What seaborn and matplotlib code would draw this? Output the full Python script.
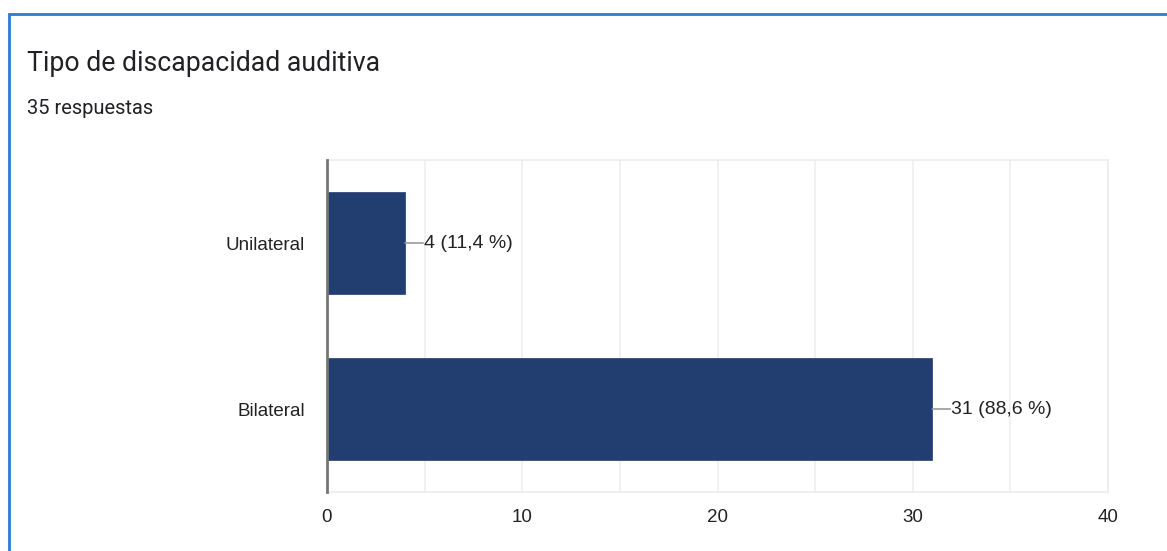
import matplotlib
matplotlib.use("Agg")
import matplotlib.pyplot as plt
import seaborn as sns
import pandas as pd
from matplotlib.patches import Rectangle
from matplotlib.ticker import MultipleLocator

categories = ["Unilateral", "Bilateral"]
counts = [4, 31]
percent_labels = ["11,4 %", "88,6 %"]
title = "Tipo de discapacidad auditiva"
subtitle = "35 respuestas"

sns.set_theme(style="white")
plt.rcParams['font.family'] = ['Liberation Sans', 'DejaVu Sans']

df = pd.DataFrame({"cat": categories, "n": counts})

fig = plt.figure(figsize=(11.67, 5.51), dpi=100)
ax = fig.add_axes([327/1167, 1-492/551, (1108-327)/1167, (492-160)/551])

sns.barplot(data=df, y="cat", x="n", orient="h", color="#223d6f",
            saturation=1, width=0.62, ax=ax, edgecolor="#223d6f", linewidth=0.5)

ax.set_xlim(0, 40)
ax.set_ylim(1.5, -0.5)
ax.xaxis.set_major_locator(MultipleLocator(10))
ax.xaxis.set_minor_locator(MultipleLocator(5))
ax.grid(True, which="both", axis="x", color="#efefef", linewidth=1.2, zorder=0)
ax.set_axisbelow(True)
ax.set_xlabel("")
ax.set_ylabel("")
for side in ["top", "right", "bottom"]:
    ax.spines[side].set_color("#ececec")
    ax.spines[side].set_linewidth(1.2)
ax.spines["left"].set_color("#757575")
ax.spines["left"].set_linewidth(2)
ax.spines["left"].set_zorder(5)
ax.tick_params(axis="both", which="both", length=0, labelsize=13.5, labelcolor="#222222")
ax.tick_params(axis="x", pad=12)
ax.tick_params(axis="y", pad=16)

for i, (v, p) in enumerate(zip(counts, percent_labels)):
    ax.annotate("", xy=(v, i), xytext=(13, 0), textcoords="offset points",
                arrowprops=dict(arrowstyle="-", color="#9a9a9a", lw=1.2,
                                shrinkA=0, shrinkB=0))
    ax.annotate(f"{v} ({p})", xy=(v, i), xytext=(13.5, 0), textcoords="offset points",
                ha="left", va="center", fontsize=14, color="#222222")

fig.text(27/1167, 1-64/551, title, fontsize=19.2, color="#202124",
         family=["Roboto", "DejaVu Sans"], va="center", ha="left")
fig.text(27/1167, 1-109/551, subtitle, fontsize=14.5, color="#202124",
         family=["Roboto", "DejaVu Sans"], va="center", ha="left")

fig.patches.append(Rectangle((8.5/1167, -0.1), 1.2, 1 - 13.5/551 + 0.1,
                             transform=fig.transFigure, fill=False,
                             edgecolor="#2a7bd4", linewidth=2))

fig.savefig("out.png", dpi=100, facecolor="white")
